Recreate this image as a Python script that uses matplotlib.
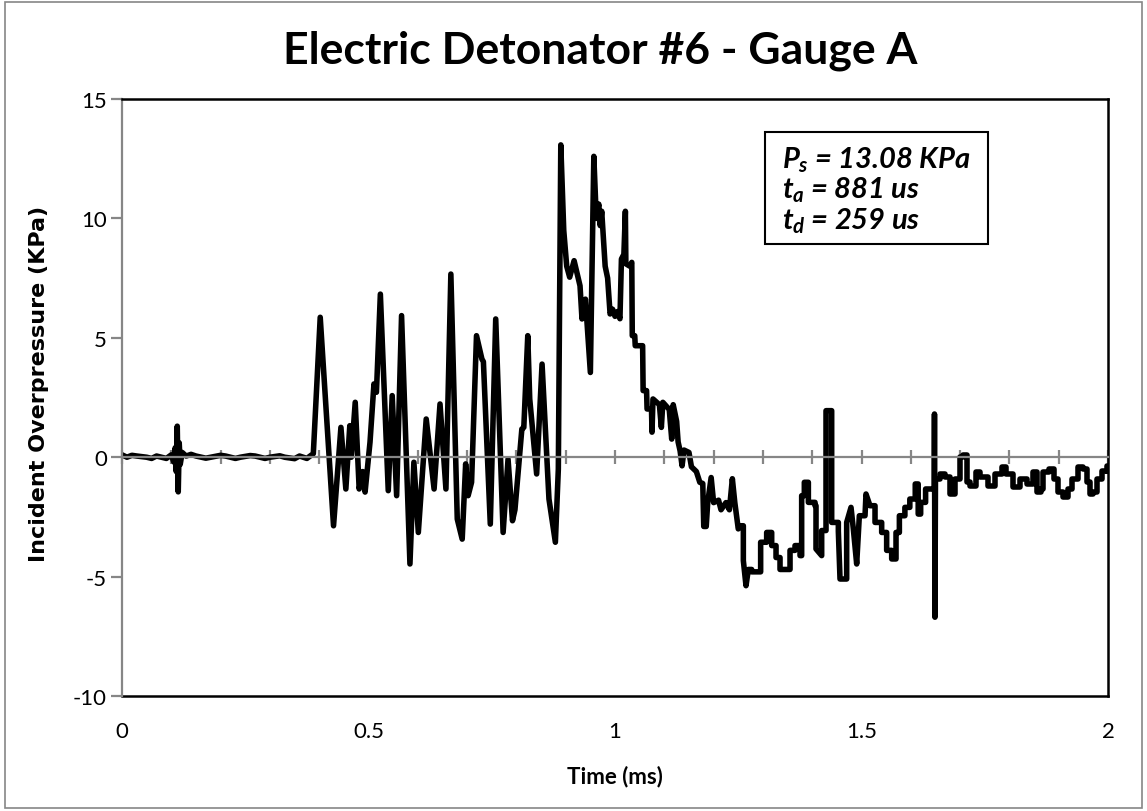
import matplotlib.pyplot as plt
from matplotlib.patches import Rectangle

plt.rcParams['font.family'] = ['Lato', 'DejaVu Sans']
plt.rcParams['mathtext.fontset'] = 'custom'
plt.rcParams['mathtext.it'] = 'Lato:italic:bold'
plt.rcParams['mathtext.rm'] = 'Lato:italic:bold'

# traced pressure record, time in ms, pressure in KPa
time_ms = [
    0.0, 0.01, 0.02, 0.03, 0.05, 0.06, 0.07, 0.09, 0.10, 0.105, 0.108, 0.110,
    0.112, 0.114, 0.116, 0.118, 0.122, 0.13, 0.14, 0.15, 0.17, 0.18, 0.20, 0.21,
    0.23, 0.24, 0.26, 0.27, 0.29, 0.30, 0.32, 0.33, 0.35, 0.36, 0.375, 0.385,
    0.388,
    0.402, 0.429, 0.444, 0.454, 0.462, 0.465, 0.473, 0.481, 0.488, 0.493, 0.503,
    0.511, 0.516, 0.524, 0.540, 0.548, 0.557, 0.567, 0.584, 0.592, 0.601, 0.617,
    0.633, 0.645, 0.657, 0.667, 0.680, 0.690, 0.697, 0.702, 0.709, 0.719, 0.730,
    0.733, 0.747, 0.758, 0.773, 0.783, 0.792, 0.797, 0.811, 0.815, 0.823, 0.827,
    0.841, 0.852, 0.866, 0.879, 0.885,
    0.890, 0.896, 0.902, 0.908, 0.917, 0.929, 0.933, 0.940, 0.950, 0.957, 0.962,
    0.967, 0.970, 0.973, 0.980, 0.985, 0.990, 0.995, 1.000, 1.005, 1.010, 1.013,
    1.018, 1.021, 1.022, 1.030, 1.034, 1.035, 1.040, 1.041, 1.056, 1.057, 1.064,
    1.065, 1.074, 1.075, 1.077, 1.090, 1.094, 1.097, 1.110, 1.115, 1.118, 1.125,
    1.128, 1.132, 1.136, 1.140, 1.150, 1.155, 1.165, 1.172, 1.178, 1.180, 1.185,
    1.188, 1.195, 1.200, 1.210, 1.215, 1.225, 1.232, 1.238, 1.243, 1.250,
    1.2535, 1.2603, 1.2603, 1.2657, 1.2704, 1.2772, 1.2772, 1.2954, 1.2954,
    1.3076, 1.3076, 1.3178, 1.3178, 1.3266, 1.3266, 1.3347, 1.3347, 1.3550,
    1.3550, 1.3651, 1.3651, 1.3753, 1.3753, 1.3786, 1.3786, 1.3840, 1.3840,
    1.3922, 1.3922, 1.4057, 1.4057, 1.4077, 1.4077, 1.4192, 1.4192, 1.4280,
    1.4280, 1.4395, 1.4395, 1.4530, 1.4530, 1.4564, 1.4699, 1.4699, 1.4787,
    1.4834, 1.4902, 1.4956, 1.5071, 1.5091, 1.5172, 1.5274, 1.5274, 1.5409,
    1.5409, 1.5510, 1.5510, 1.5612, 1.5612, 1.5700, 1.5700, 1.5768, 1.5768,
    1.5880, 1.5880, 1.5980, 1.5980, 1.6090, 1.6090, 1.6150, 1.6150, 1.6200,
    1.6200, 1.6300, 1.6300, 1.6475, 1.6480, 1.6490, 1.6500,
]
pressure_kpa = [
    0.1, 0.0, 0.08, 0.05, 0.0, -0.05, 0.05, -0.05, 0.1, -0.2, 0.4, -0.6,
    1.3, -1.45, 0.6, -0.3, 0.2, 0.05, 0.12, 0.05, -0.04, 0.0, 0.08, 0.05,
    -0.05, 0.0, 0.07, 0.05, -0.05, 0.0, 0.06, 0.0, -0.06, 0.05, -0.05, 0.1,
    0.15,
    5.86, -2.87, 1.25, -1.33, 1.32, 0.0, 2.3, -1.33, -0.6, -1.46, 0.63,
    3.07, 2.72, 6.83, -1.4, 2.58, -1.61, 5.93, -4.47, -0.21, -3.15, 1.6,
    -1.33, 2.23, -1.33, 7.67, -2.59, -3.43, -0.28, -1.61, -1.05, 5.09, 4.11,
    4.0, -2.8, 5.79, -3.15, -0.08, -2.66, -2.2, 1.18, 1.25, 5.09, 2.44,
    -0.7, 3.9, -1.75, -3.56, -0.5,
    13.08, 9.5, 8.0, 7.54, 8.23, 7.18, 5.79, 6.62, 3.55, 12.6, 10.0,
    10.6, 9.7, 10.3, 8.0, 7.5, 6.0, 6.2, 5.9, 6.1, 5.8, 8.3,
    8.5, 10.3, 8.1, 8.0, 8.16, 5.09, 5.09, 4.67, 4.67, 2.79, 2.79,
    2.02, 2.02, 1.05, 2.44, 2.2, 1.25, 2.3, 2.0, 0.76, 2.2, 1.5,
    0.64, 0.27, -0.36, 0.3, 0.2, -0.4, -0.6, -1.05, -1.1, -2.9, -2.9,
    -1.9, -0.85, -1.9, -1.8, -2.2, -1.9, -2.2, -0.9, -1.9, -3.0,
    -2.87, -2.87, -4.33, -5.38, -4.7, -4.7, -4.8, -4.8, -3.56,
    -3.56, -3.15, -3.15, -3.7, -3.7, -4.2, -4.2, -4.7, -4.7,
    -3.9, -3.9, -3.7, -3.7, -4.12, -4.12, -1.61, -1.61, -1.05,
    -1.05, -1.89, -1.89, -2.03, -2.03, -3.84, -4.12, -3.07, -3.07,
    1.95, 1.95, -2.73, -2.73, -3.1, -5.1, -5.1, -2.73, -2.1,
    -3.0, -4.47, -2.45, -2.45, -1.54, -2.03, -2.03, -2.73, -2.73,
    -3.15, -3.15, -3.9, -3.9, -4.26, -4.26, -3.15, -3.15, -2.45,
    -2.45, -2.1, -2.1, -1.75, -1.75, -1.12, -1.12, -2.38, -2.38,
    -1.89, -1.89, -1.33, -1.33, 1.81, -6.7, -0.9,
]

# late, stepped part of the record (held values)
tail_time_ms = [
    1.650, 1.659, 1.669, 1.679, 1.690, 1.700, 1.705, 1.713, 1.720, 1.733,
    1.740, 1.757, 1.771, 1.784, 1.794, 1.808, 1.822, 1.835, 1.848, 1.855,
    1.865, 1.868, 1.881, 1.890, 1.899, 1.909, 1.919, 1.926, 1.940, 1.950,
    1.957, 1.963, 1.970, 1.977, 1.987, 1.997, 2.000,
]
tail_pressure_kpa = [
    -0.9, -0.7, -0.84, -1.54, -0.91, 0.0, 0.1, -1.05, -1.2, -0.63,
    -0.84, -1.19, -0.7, -0.42, -0.7, -1.26, -0.9, -1.12, -0.63, -1.47,
    -1.33, -0.63, -0.49, -0.9, -1.47, -1.68, -1.33, -0.91, -0.42, -0.49,
    -1.05, -1.54, -1.47, -0.91, -0.56, -0.36, -0.56,
]

x_labels = [0, 0.5, 1, 1.5, 2]
y_ticks = [-10, -5, 0, 5, 10, 15]
x_minor = [i / 10 for i in range(21)]

annotation = [r'$P_s$ = 13.08 KPa', r'$t_a$ = 881 us', r'$t_d$ = 259 us']

fig = plt.figure(figsize=(11.47, 8.12), dpi=100)
ax = fig.add_axes([0.1064, 0.1416, 0.8596, 0.7352])

ax.plot(time_ms, pressure_kpa, color='black', lw=4.0, solid_joinstyle='round')
ax.plot(tail_time_ms, tail_pressure_kpa, color='black', lw=4.0,
        drawstyle='steps-post', solid_joinstyle='round')
ax.set_xlim(0, 2)
ax.set_ylim(-10, 15)

grey = '#868686'
# value axis
ax.spines['left'].set_color(grey)
ax.spines['left'].set_linewidth(1.6)
ax.set_yticks(y_ticks)
ax.set_yticklabels([str(v) for v in y_ticks])
ax.tick_params(axis='y', direction='out', length=8, width=1.6, color=grey,
               labelsize=16, pad=3)

# category axis crossing at zero, labels kept at the bottom
ax.spines['bottom'].set_position(('data', 0))
ax.spines['bottom'].set_color(grey)
ax.spines['bottom'].set_linewidth(1.6)
ax.set_xticks(x_minor)
ax.tick_params(axis='x', direction='inout', length=10, width=1.6, color=grey,
               labelbottom=False)

sec = ax.secondary_xaxis('bottom')
sec.set_xticks(x_labels)
sec.set_xticklabels(['0', '0.5', '1', '1.5', '2'])
sec.tick_params(length=0, labelsize=16, pad=18)
sec.spines['bottom'].set_color('black')
sec.spines['bottom'].set_linewidth(1.8)

for side in ['top', 'right']:
    ax.spines[side].set_color('black')
    ax.spines[side].set_linewidth(1.8)

ax.set_ylabel('Incident Overpressure (KPa)', fontsize=16, fontweight='bold',
              family='DejaVu Sans')
ax.yaxis.set_label_coords(-0.074, 0.524)
sec.set_xlabel('Time (ms)', fontsize=16, fontweight='bold', labelpad=17)

fig.text(0.523, 0.938, 'Electric Detonator #6 - Gauge A', ha='center', va='center',
         fontsize=32, fontweight='bold')

fig.patches.append(Rectangle((0.667, 0.6983), 0.1944, 0.1379, transform=fig.transFigure,
                             fill=False, edgecolor='black', lw=1.5))
for i, line in enumerate(annotation):
    fig.text(0.682, 0.803 - i * 0.0375, line, ha='left', va='center', fontsize=21,
             fontweight='bold', style='italic')

fig.patches.append(Rectangle((0.004, 0.004), 0.992, 0.992, transform=fig.transFigure,
                             fill=False, edgecolor=grey, lw=1.2))

fig.savefig('out.png', dpi=100)
